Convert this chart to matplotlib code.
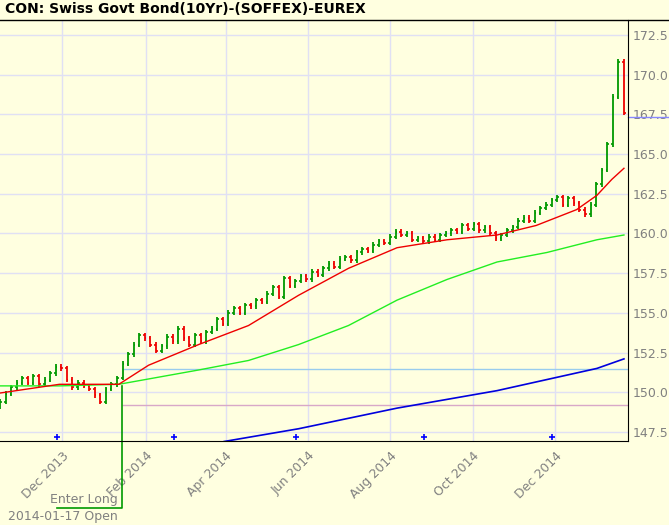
import matplotlib
matplotlib.use("Agg")
import matplotlib.pyplot as plt
import matplotlib.dates as mdates
import pandas as pd
import numpy as np

title = "CON: Swiss Govt Bond(10Yr)-(SOFFEX)-EUREX"
closes = [149.4,149.9,150.3,150.6,150.9,150.6,151.0,150.5,150.8,151.2,151.6,151.5,150.8,150.3,150.6,150.4,
          150.2,149.8,149.4,150.2,150.5,150.9,151.8,152.4,153.0,153.6,153.4,153.0,152.6,152.9,153.5,153.2,
          154.0,153.4,153.0,153.6,153.2,153.8,154.0,154.6,154.3,155.0,155.3,155.0,155.5,155.4,155.8,155.7,
          156.2,156.6,156.0,157.2,156.7,157.0,157.3,157.1,157.6,157.4,157.8,158.1,157.9,158.4,158.5,158.3,
          158.8,159.0,158.9,159.3,159.5,159.4,159.8,160.1,159.9,160.0,159.6,159.7,159.5,159.8,159.6,159.9,
          160.0,160.2,160.1,160.5,160.3,160.6,160.2,160.4,160.0,159.7,159.9,160.2,160.4,160.8,161.0,160.8,
          161.3,161.6,161.8,162.1,162.3,161.8,162.2,161.9,161.5,161.2,161.8,163.1,164.0,165.6,168.6,170.8,167.6]
dates = pd.date_range("2013-10-16", "2015-01-21", periods=len(closes))

red_dates = ["2013-10-16","2013-11-29","2014-01-12","2014-02-03","2014-03-12","2014-04-18","2014-05-25",
             "2014-07-01","2014-08-06","2014-09-12","2014-10-19","2014-11-17","2014-12-17","2015-01-01",
             "2015-01-12","2015-01-21"]
red_vals = [149.95,150.5,150.5,151.7,153.0,154.2,156.1,157.8,159.1,159.6,159.9,160.5,161.5,162.4,163.4,164.1]
green_dates = ["2013-10-16","2013-11-29","2014-01-12","2014-03-12","2014-04-18","2014-05-25","2014-07-01",
               "2014-08-06","2014-09-12","2014-10-19","2014-11-25","2015-01-01","2015-01-21"]
green_vals = [150.4,150.4,150.5,151.4,152.0,153.0,154.2,155.8,157.1,158.2,158.8,159.6,159.9]
blue_dates = ["2014-03-31","2014-05-25","2014-08-06","2014-10-19","2015-01-01","2015-01-21"]
blue_vals = [146.9,147.7,149.0,150.1,151.5,152.1]
plus_dates = ["2013-11-27","2014-02-22","2014-05-23","2014-08-26","2014-11-29"]
plus_level = 147.2
entry_date = "2014-01-14"
entry_price = 150.4
target_level = 151.46
stop_level = 149.2
last_level = 167.3

bg = "#FFFFE0"
fig = plt.figure(figsize=(6.69, 5.25), dpi=100, facecolor=bg)
ax = fig.add_axes([0, 0.16, 628/669, 0.962-0.16], facecolor=bg)
fig.text(0.008, 0.982, title, fontsize=10, fontweight="bold", va="center", ha="left", family="DejaVu Sans")
fig.add_artist(plt.Line2D([0, 1], [0.962, 0.962], color="black", lw=1))

ax.set_ylim(146.93, 173.44)
ax.set_xlim(pd.Timestamp("2013-10-16"), pd.Timestamp("2015-01-24"))
ax.set_yticks(np.arange(147.5, 173, 2.5))
ax.yaxis.tick_right()
ax.yaxis.set_major_formatter(matplotlib.ticker.FormatStrFormatter("%.1f"))
ax.xaxis.set_major_locator(mdates.MonthLocator(bymonth=[2,4,6,8,10,12]))
ax.xaxis.set_major_formatter(mdates.DateFormatter("%b %Y"))
for lab in ax.get_xticklabels():
    lab.set_rotation(45); lab.set_ha("right"); lab.set_rotation_mode("anchor")
ax.tick_params(colors="#808080", labelsize=9, length=0)
ax.tick_params(axis="x", pad=6)
ax.grid(True, color="#E0E0F4", lw=1)
ax.set_axisbelow(True)
for s in ["top", "left"]:
    ax.spines[s].set_visible(False)
ax.spines["bottom"].set_color("black")
ax.spines["right"].set_color("black")

ed = pd.Timestamp(entry_date)
ax.hlines([target_level], ed, ax.get_xlim()[1], color="#99CCEE", lw=1)
ax.hlines([stop_level], ed, ax.get_xlim()[1], color="#D8A8C8", lw=1)

prev = closes[0] - 0.3
for d, c in zip(dates, closes):
    col = "#009900" if c >= prev else "#EE0000"
    lo, hi = min(prev, c) - 0.15, max(prev, c) + 0.15
    ax.vlines(d, lo, hi, color=col, lw=1.3)
    ax.hlines(c, d, d + pd.Timedelta(days=1.2), color=col, lw=1.2)
    ax.hlines(prev, d - pd.Timedelta(days=1.2), d, color=col, lw=1.2)
    prev = c

ax.plot(pd.to_datetime(green_dates), green_vals, color="#22EE22", lw=1)
ax.plot(pd.to_datetime(red_dates), red_vals, color="#EE0000", lw=1)
ax.plot(pd.to_datetime(blue_dates), blue_vals, color="#0000DD", lw=1.2)
ax.plot(pd.to_datetime(plus_dates), [plus_level]*len(plus_dates), "+", color="blue", ms=5, mew=1.2)

# entry marker
bot = 142.7
ax.plot([ed, ed, pd.Timestamp("2013-11-27")], [entry_price, bot, bot], color="#009900", lw=1.2, clip_on=False)
ax.text(ed - pd.Timedelta(days=3), 143.25, "Enter Long", color="#808080", fontsize=9, ha="right", va="center")
ax.text(ed - pd.Timedelta(days=3), 142.15, "2014-01-17 Open", color="#808080", fontsize=9, ha="right", va="center")
# last-price marker
ax.plot([1, 1.07], [last_level]*2, transform=ax.get_yaxis_transform(), color="#8888FF", lw=1, clip_on=False)

fig.savefig("out.png", dpi=100, facecolor=bg)
